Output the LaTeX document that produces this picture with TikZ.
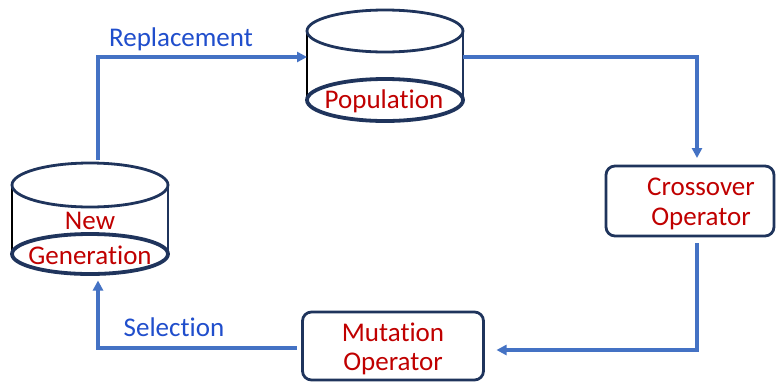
\documentclass[tikz,border=0pt]{standalone}
\usepackage{fontspec}
\setmainfont{Carlito}[Ligatures=NoCommon]
\usetikzlibrary{arrows.meta,calc}
\definecolor{navy}{RGB}{31,52,92}
\definecolor{flowblue}{RGB}{68,114,196}
\definecolor{labelblue}{RGB}{32,78,204}
\definecolor{textred}{RGB}{192,0,0}
\tikzset{
  slot/.style={inner sep=0pt, outer sep=0pt, minimum width=156pt},
  opbox/.style={draw=navy, line width=2.8pt, rounded corners=9pt, inner sep=0pt, outer sep=0pt},
  rimline/.style={draw=navy, line width=2.8pt},
  baseline/.style={draw=navy, line width=3.8pt},
  redtxt/.style={text=textred, font=\fontsize{27}{30}\selectfont, inner sep=0pt},
  bluetxt/.style={text=labelblue, font=\fontsize{27}{30}\selectfont, inner sep=0pt},
  flow/.style={draw=flowblue, line width=3.2pt, -{Triangle[length=10pt,width=10pt]}}
}
\begin{document}
\begin{tikzpicture}[x=1pt,y=-1pt]
\useasboundingbox[fill=white] (0,0) rectangle (776,381);

% Population store
\node[slot, minimum height=112pt] (pop) at (385,66) {};
\draw[black, line width=2.6pt] (307,31) -- (307,98);
\draw[navy, line width=2.6pt] (463,31) -- (463,98);
\draw[rimline, fill=white] (385,31) ellipse [x radius=78, y radius=21];
\draw[baseline] (385,100) ellipse [x radius=78, y radius=21];
\node[redtxt] (poptxt) at (384,101) {Population};

% New Generation store
\node[slot, minimum height=113pt] (ng) at (90,218) {};
\draw[black, line width=2.6pt] (12,185) -- (12,252);
\draw[navy, line width=2.6pt] (168,185) -- (168,252);
\draw[rimline, fill=white] (90,185) ellipse [x radius=78, y radius=22];
\draw[baseline] (90,254) ellipse [x radius=78, y radius=20];
\node[redtxt] (ngtop) at (90,221) {New};
\node[redtxt] (ngbot) at (90,255) {Generation};

% Operator boxes
\node[opbox, minimum width=168pt, minimum height=70pt] (co) at (690,201) {};
\node[redtxt] (cotop) at (701,187) {Crossover};
\node[redtxt] (cobot) at (701,219) {Operator};

\node[opbox, minimum width=181pt, minimum height=68pt] (mu) at (393,346) {};
\node[redtxt] (mutop) at (393,332) {Mutation};
\node[redtxt] (mubot) at (393,364) {Operator};

% Cycle connectors
\draw[flow] ([xshift=8pt,yshift=2pt]ng.north) |- ([yshift=9pt]pop.west);
\draw[flow] ([yshift=9pt]pop.east) -| ([xshift=7pt,yshift=8pt]co.north);
\draw[flow] ([xshift=7pt,yshift=-7pt]co.south) |- ([xshift=13pt,yshift=-4pt]mu.east);
\draw[flow] ([xshift=-6pt,yshift=-2pt]mu.west) -| ([xshift=8pt,yshift=-6pt]ng.south);

% Edge labels
\node[bluetxt] (replab) at (181,39) {Replacement};
\node[bluetxt] (sellab) at (174,327) {Selection};
\end{tikzpicture}
\end{document}
